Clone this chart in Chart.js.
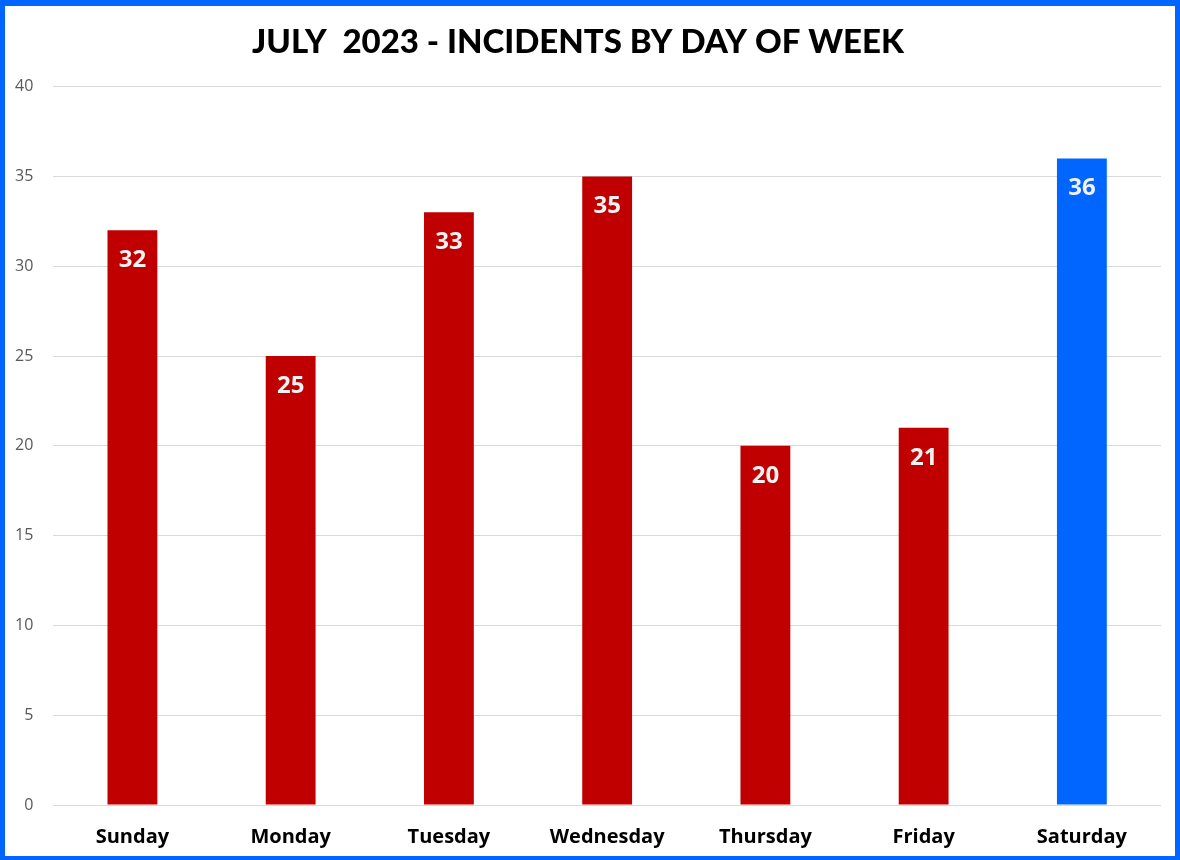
<!DOCTYPE html>
<html>
<head>
<meta charset="utf-8">
<script src="https://cdn.jsdelivr.net/npm/chart.js@4/dist/chart.umd.min.js"></script>
<style>
  html, body { margin: 0; padding: 0; background: #fff; }
  #frame {
    width: 1180px; height: 860px; box-sizing: border-box;
    border: 5px solid #0066ff; border-top-width: 6px; border-bottom-width: 4px;
    position: relative;
  }
  #wrap { position: absolute; left: 0; top: 0; right: 0; bottom: 0; }
</style>
</head>
<body>
<div id="frame"><div id="wrap"><canvas id="mainGraph"></canvas></div></div>
<script>
const days = ["Sunday", "Monday", "Tuesday", "Wednesday", "Thursday", "Friday", "Saturday"];
const incidents = [32, 25, 33, 35, 20, 21, 36];
const barColors = ["#c00000", "#c00000", "#c00000", "#c00000", "#c00000", "#c00000", "#0066ff"];
const yTicks = [0, 5, 10, 15, 20, 25, 30, 35, 40];

// value labels drawn just inside the top of each bar
const barValues = {
  id: 'barValues',
  afterDatasetsDraw(chart) {
    const c = chart.ctx;
    const meta = chart.getDatasetMeta(0);
    c.save();
    c.font = 'bold 24px "Open Sans", sans-serif';
    c.fillStyle = '#f2f2f2';
    c.textAlign = 'center';
    c.textBaseline = 'middle';
    meta.data.forEach((bar, i) => {
      c.fillText(String(incidents[i]), bar.x, bar.y + 30);
    });
    c.restore();
  }
};

var ctx = document.getElementById('mainGraph').getContext('2d');

var chart = new Chart(ctx, {
  type: 'bar',
  data: {
    labels: days,
    datasets: [{
      data: incidents,
      backgroundColor: barColors,
      barPercentage: 0.63,
      categoryPercentage: 0.5
    }]
  },
  options: {
    responsive: true,
    maintainAspectRatio: false,
    animation: false,
    layout: { padding: { left: -10, right: 14, top: 6, bottom: -5 } },
    plugins: {
      legend: { display: false },
      tooltip: { enabled: false },
      title: {
        display: true,
        text: 'JULY  2023 - INCIDENTS BY DAY OF WEEK',
        color: '#000',
        font: { family: 'Lato', size: 33, weight: '900' },
        padding: { top: 11, bottom: 24 }
      }
    },
    scales: {
      x: {
        grid: { display: false },
        border: { display: false },
        ticks: {
          color: '#000',
          font: { family: '"Open Sans"', size: 20, weight: 'bold' },
          padding: 12
        }
      },
      y: {
        min: 0,
        max: 40,
        afterBuildTicks(axis) { axis.ticks = yTicks.map(v => ({ value: v })); },
        grid: { color: '#d9d9d9', drawTicks: false, lineWidth: 1 },
        border: { display: false },
        ticks: {
          color: '#595959',
          font: { family: '"Open Sans"', size: 16 },
          padding: 20
        }
      }
    }
  },
  plugins: [barValues]
});
</script>
</body>
</html>
